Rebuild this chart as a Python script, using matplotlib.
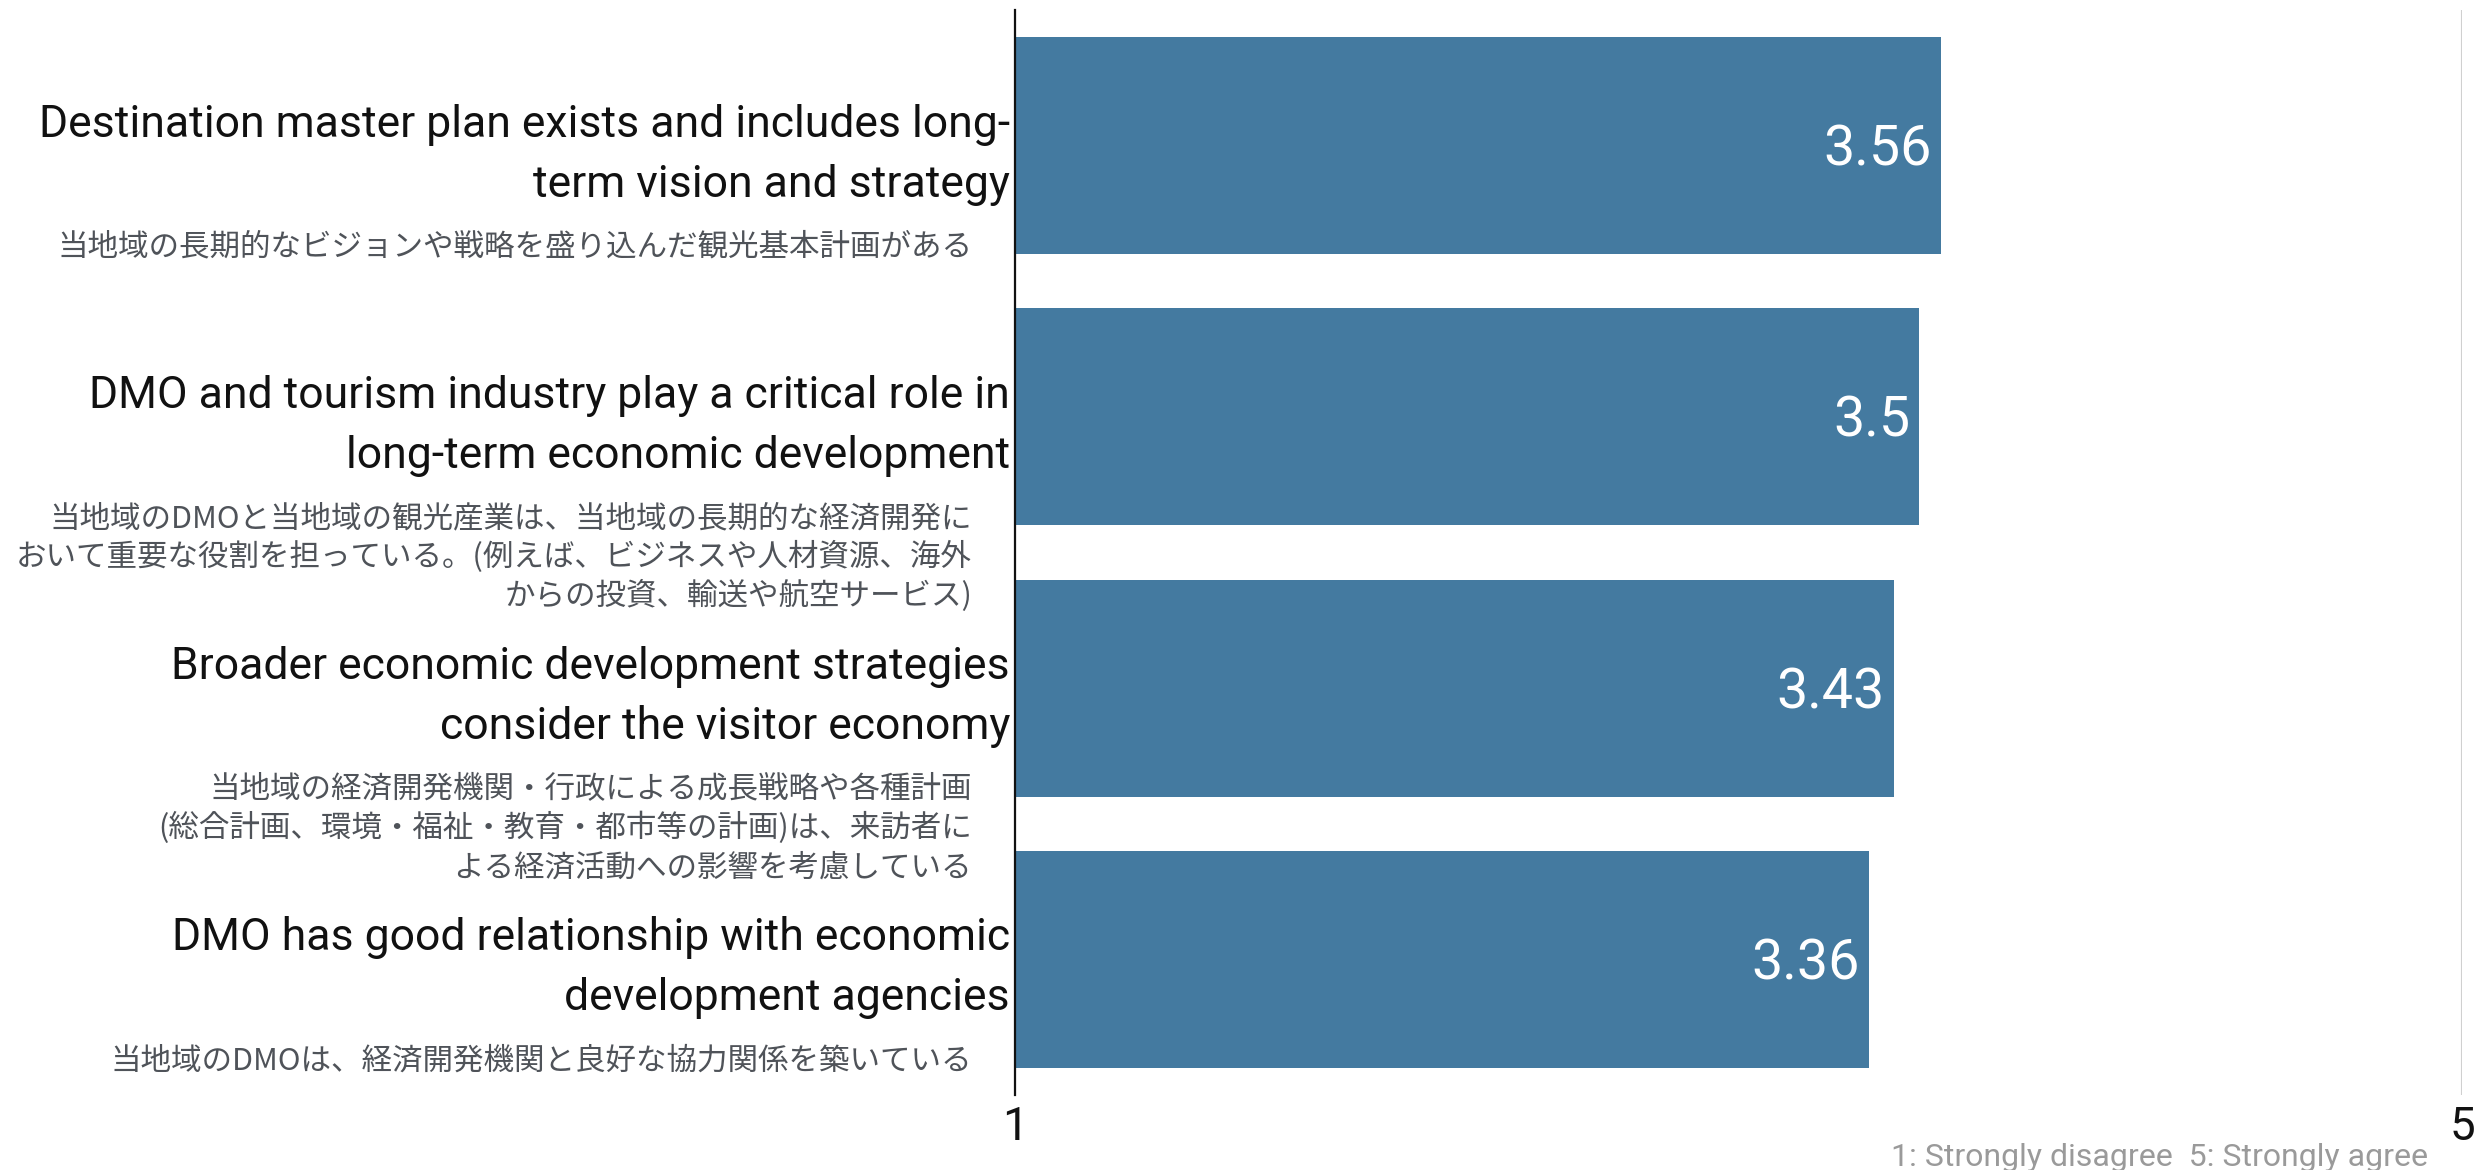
import matplotlib
matplotlib.use("Agg")
import matplotlib.pyplot as plt

# ---- data ----
labels_en = [
    "Destination master plan exists and includes long-\nterm vision and strategy",
    "DMO and tourism industry play a critical role in\nlong-term economic development",
    "Broader economic development strategies\nconsider the visitor economy",
    "DMO has good relationship with economic\ndevelopment agencies",
]
labels_ja = [
    "当地域の長期的なビジョンや戦略を盛り込んだ観光基本計画がある",
    "当地域のDMOと当地域の観光産業は、当地域の長期的な経済開発に\nおいて重要な役割を担っている。(例えば、ビジネスや人材資源、海外\nからの投資、輸送や航空サービス)",
    "当地域の経済開発機関・行政による成長戦略や各種計画\n(総合計画、環境・福祉・教育・都市等の計画)は、来訪者に\nよる経済活動への影響を考慮している",
    "当地域のDMOは、経済開発機関と良好な協力関係を築いている",
]
values = [3.56, 3.5, 3.43, 3.36]
xticks = [1, 5]
footnote = "1: Strongly disagree  5: Strongly agree"

EN_FONT = ["Roboto", "DejaVu Sans"]
JA_FONT = ["Noto Sans CJK JP", "DejaVu Sans"]

fig = plt.figure(figsize=(24.78, 11.70), dpi=100)
ax = fig.add_axes([1015 / 2478, 1 - 1095 / 1170, (2462 - 1015) / 2478, (1095 - 10) / 1170])

ypos = list(range(len(values)))
ax.barh(ypos, values, height=0.8, color="#447AA0", zorder=2)
ax.set_xlim(1, 5)
ax.set_ylim(len(values) - 0.5, -0.5)

ax.set_xticks(xticks)
ax.set_xticklabels([str(t) for t in xticks], fontsize=33, family=EN_FONT, color="#111111")
ax.tick_params(axis="x", length=0, pad=7)
ax.set_yticks([])
ax.grid(axis="x", color="#d0d0d0", linewidth=1.5, zorder=0)
ax.set_axisbelow(True)
for s in ["top", "right", "bottom"]:
    ax.spines[s].set_visible(False)
ax.spines["left"].set_color("#111111")
ax.spines["left"].set_linewidth(1.6)
ax.spines["left"].set_zorder(3)

# value labels
for i, v in enumerate(values):
    ax.annotate(f"{v:g}", xy=(v, i), xytext=(-9, -20), textcoords="offset pixels",
                ha="right", va="baseline", color="white", fontsize=40, family=EN_FONT, zorder=4)

# category labels (one text per line)
for i, (en, ja) in enumerate(zip(labels_en, labels_ja)):
    for k, line in enumerate(en.split("\n")):
        ax.annotate(line, xy=(0, i), xycoords=("axes fraction", "data"),
                    xytext=(-5, 9 - 60 * k), textcoords="offset pixels",
                    ha="right", va="baseline", fontsize=32, family=EN_FONT,
                    color="#111111", annotation_clip=False)
    for k, line in enumerate(ja.split("\n")):
        ax.annotate(line, xy=(0, i), xycoords=("axes fraction", "data"),
                    xytext=(-43, -110 - 39 * k), textcoords="offset pixels",
                    ha="right", va="baseline", fontsize=22, family=JA_FONT,
                    color="#4f5359", annotation_clip=False)

fig.text(2428 / 2478, 4 / 1170, footnote, ha="right", va="baseline",
         fontsize=23, family=EN_FONT, color="#9a9a9a")

fig.savefig("out.png", dpi=100, facecolor="white")
